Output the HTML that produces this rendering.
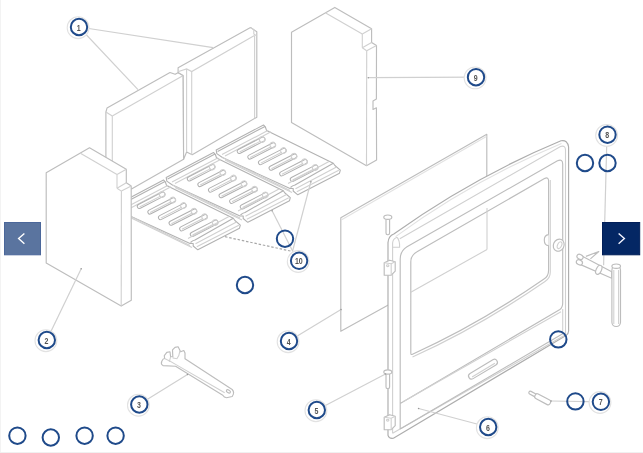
<!DOCTYPE html>
<html><head><meta charset="utf-8"><style>
html,body{margin:0;padding:0;background:#fff;}
body{width:643px;height:453px;overflow:hidden;position:relative;}
svg{position:absolute;left:0;top:0;will-change:transform}
.o{stroke:#bdbdbd;stroke-width:1.15;fill-rule:evenodd;stroke-linejoin:round}
.i{stroke:#d0d0d0;stroke-width:1.1;fill:none}
.s{stroke:#b0b0b0;stroke-width:1.0}
.d{stroke:#adadad;stroke-width:1.15;stroke-linejoin:round}
.i2{stroke:#e2e2e2;stroke-width:1.1;fill:none}
.g{stroke:#b2b2b2;stroke-width:1.1;stroke-linejoin:round}
.ld{stroke:#d0d0d0;stroke-width:1.2}
.c{fill:none;stroke:#1f4a8a;stroke-width:2}
text{font-family:"Liberation Sans",sans-serif;font-size:8.8px;font-weight:bold;fill:#555;text-anchor:middle}
.btn{position:absolute;top:222px;height:33px;}
</style></head><body>
<svg width="643" height="453" viewBox="0 0 643 453">
<rect x="0" y="0" width="1" height="453" fill="#f3f3f3"/>
<rect x="0" y="452" width="643" height="1" fill="#f0f0f0"/>
<polygon class="o" fill="#fff" points="105.9,112 107,108.1 170,72.5 175.1,74.3 178.1,72.7 183.2,75.4 183.6,159.3 131.5,188.9 105.9,175"/>
<line class="i" x1="105.9" y1="112" x2="112.3" y2="116"/>
<line class="i" x1="112.3" y1="116" x2="183.2" y2="75.4"/>
<line class="i" x1="112.3" y1="116" x2="112.3" y2="175"/>
<polygon class="o" fill="#fff" points="178.1,72.5 178.1,67.7 250.5,27.5 256.8,31.7 256.8,117.2 192.2,154.7 186.6,152 183.6,159.3 183.2,75.4"/>
<polyline class="i" fill="none" points="178.5,71.6 186.6,68.9 191.7,71.6 254.4,35.6"/>
<line class="i" x1="186.6" y1="68.9" x2="186.6" y2="152"/>
<line class="i" x1="191.7" y1="71.6" x2="191.7" y2="154.7"/>
<line class="i" x1="254.6" y1="35.6" x2="254.6" y2="118.3"/>
<polyline class="i" fill="none" points="250.5,27.5 253.8,29.8 253.8,34 256.8,36"/>
<polygon class="o" fill="#fff" points="291.5,32.3 334.8,7.4 371.6,28.8 371.6,42.4 376.5,45.5 376.4,98.9 373,101 373,109.5 376.4,107.8 376.6,159.9 366.5,165.7 291.5,122.6"/>
<line class="i" x1="325.7" y1="12.9" x2="362.3" y2="34.1"/>
<line class="i" x1="362.3" y1="34.1" x2="371.6" y2="28.8"/>
<line class="i" x1="362.3" y1="34.1" x2="362.3" y2="47.8"/>
<line class="i" x1="362.3" y1="47.8" x2="371.6" y2="42.4"/>
<line class="i" x1="362.3" y1="47.8" x2="366.7" y2="50.7"/>
<line class="i" x1="366.7" y1="50.7" x2="376.5" y2="45.5"/>
<line class="i" x1="366.7" y1="50.7" x2="366.5" y2="165.7"/>
<polygon class="g" fill="#fff" points="116.2,204.9 163.5,180 165.3,181.8 166.6,185.6 233.3,218.2 234.9,220.5 240.3,225.1 239.5,228.2 197.8,249.8 193.2,246 193.2,243.5 190,243.5 122.4,212.5 116.8,208.6"/>
<line class="g" x1="117.6" y1="206.4" x2="165" y2="181.4"/>
<line class="i" x1="122" y1="209.6" x2="168.2" y2="185.3"/>
<line class="i" x1="125" y1="211.1" x2="171" y2="186.8"/>
<line class="i" x1="122.4" y1="212.5" x2="190" y2="245.5"/>
<line class="i" x1="125" y1="215" x2="192" y2="247.5"/>
<g transform="translate(137.5,207.3) rotate(-27.2)"><rect class="s" fill="#fff" x="0" y="-2.1" width="30.6" height="4.2" rx="2.1"/><circle class="i" fill="#fff" cx="27.8" cy="-0.2" r="2.8"/><line class="i" x1="2" y1="0.6" x2="25.6" y2="0.6"/></g>
<g transform="translate(148.1,212.9) rotate(-27.2)"><rect class="s" fill="#fff" x="0" y="-2.1" width="30.6" height="4.2" rx="2.1"/><circle class="i" fill="#fff" cx="27.8" cy="-0.2" r="2.8"/><line class="i" x1="2" y1="0.6" x2="25.6" y2="0.6"/></g>
<g transform="translate(158.7,218.5) rotate(-27.2)"><rect class="s" fill="#fff" x="0" y="-2.1" width="30.6" height="4.2" rx="2.1"/><circle class="i" fill="#fff" cx="27.8" cy="-0.2" r="2.8"/><line class="i" x1="2" y1="0.6" x2="25.6" y2="0.6"/></g>
<g transform="translate(169.3,224.1) rotate(-27.2)"><rect class="s" fill="#fff" x="0" y="-2.1" width="30.6" height="4.2" rx="2.1"/><circle class="i" fill="#fff" cx="27.8" cy="-0.2" r="2.8"/><line class="i" x1="2" y1="0.6" x2="25.6" y2="0.6"/></g>
<g transform="translate(179.9,229.7) rotate(-27.2)"><rect class="s" fill="#fff" x="0" y="-2.1" width="30.6" height="4.2" rx="2.1"/><circle class="i" fill="#fff" cx="27.8" cy="-0.2" r="2.8"/><line class="i" x1="2" y1="0.6" x2="25.6" y2="0.6"/></g>
<g transform="translate(190.5,235.3) rotate(-27.2)"><rect class="s" fill="#fff" x="0" y="-2.1" width="30.6" height="4.2" rx="2.1"/><circle class="i" fill="#fff" cx="27.8" cy="-0.2" r="2.8"/><line class="i" x1="2" y1="0.6" x2="25.6" y2="0.6"/></g>
<path class="g" fill="none" d="M190.5,242.5 Q192.5,240.5 195,240 L233.3,218.2"/>
<line class="i" x1="195.5" y1="243.8" x2="236.5" y2="222"/>
<line class="i" x1="196.8" y1="246.8" x2="238.8" y2="225.2"/>
<line class="i" x1="188" y1="238.5" x2="229" y2="216.5"/>
<polygon class="g" fill="#fff" points="166.2,177.4 213.5,152.5 215.3,154.3 216.6,158.1 283.3,190.7 284.9,193 290.3,197.6 289.5,200.7 247.8,222.3 243.2,218.5 243.2,216 240,216 172.4,185 166.8,181.1"/>
<line class="g" x1="167.6" y1="178.9" x2="215" y2="153.9"/>
<line class="i" x1="172" y1="182.1" x2="218.2" y2="157.8"/>
<line class="i" x1="175" y1="183.6" x2="221" y2="159.3"/>
<line class="i" x1="172.4" y1="185" x2="240" y2="218"/>
<line class="i" x1="175" y1="187.5" x2="242" y2="220"/>
<g transform="translate(187.5,179.8) rotate(-27.2)"><rect class="s" fill="#fff" x="0" y="-2.1" width="30.6" height="4.2" rx="2.1"/><circle class="i" fill="#fff" cx="27.8" cy="-0.2" r="2.8"/><line class="i" x1="2" y1="0.6" x2="25.6" y2="0.6"/></g>
<g transform="translate(198.1,185.4) rotate(-27.2)"><rect class="s" fill="#fff" x="0" y="-2.1" width="30.6" height="4.2" rx="2.1"/><circle class="i" fill="#fff" cx="27.8" cy="-0.2" r="2.8"/><line class="i" x1="2" y1="0.6" x2="25.6" y2="0.6"/></g>
<g transform="translate(208.7,191) rotate(-27.2)"><rect class="s" fill="#fff" x="0" y="-2.1" width="30.6" height="4.2" rx="2.1"/><circle class="i" fill="#fff" cx="27.8" cy="-0.2" r="2.8"/><line class="i" x1="2" y1="0.6" x2="25.6" y2="0.6"/></g>
<g transform="translate(219.3,196.6) rotate(-27.2)"><rect class="s" fill="#fff" x="0" y="-2.1" width="30.6" height="4.2" rx="2.1"/><circle class="i" fill="#fff" cx="27.8" cy="-0.2" r="2.8"/><line class="i" x1="2" y1="0.6" x2="25.6" y2="0.6"/></g>
<g transform="translate(229.9,202.2) rotate(-27.2)"><rect class="s" fill="#fff" x="0" y="-2.1" width="30.6" height="4.2" rx="2.1"/><circle class="i" fill="#fff" cx="27.8" cy="-0.2" r="2.8"/><line class="i" x1="2" y1="0.6" x2="25.6" y2="0.6"/></g>
<g transform="translate(240.5,207.8) rotate(-27.2)"><rect class="s" fill="#fff" x="0" y="-2.1" width="30.6" height="4.2" rx="2.1"/><circle class="i" fill="#fff" cx="27.8" cy="-0.2" r="2.8"/><line class="i" x1="2" y1="0.6" x2="25.6" y2="0.6"/></g>
<path class="g" fill="none" d="M240.5,215 Q242.5,213 245,212.5 L283.3,190.7"/>
<line class="i" x1="245.5" y1="216.3" x2="286.5" y2="194.5"/>
<line class="i" x1="246.8" y1="219.3" x2="288.8" y2="197.7"/>
<line class="i" x1="238" y1="211" x2="279" y2="189"/>
<polygon class="g" fill="#fff" points="216.2,149.9 263.5,125 265.3,126.8 266.6,130.6 333.3,163.2 334.9,165.5 340.3,170.1 339.5,173.2 297.8,194.8 293.2,191 293.2,188.5 290,188.5 222.4,157.5 216.8,153.6"/>
<line class="g" x1="217.6" y1="151.4" x2="265" y2="126.4"/>
<line class="i" x1="222" y1="154.6" x2="268.2" y2="130.3"/>
<line class="i" x1="225" y1="156.1" x2="271" y2="131.8"/>
<line class="i" x1="222.4" y1="157.5" x2="290" y2="190.5"/>
<line class="i" x1="225" y1="160" x2="292" y2="192.5"/>
<g transform="translate(237.5,152.3) rotate(-27.2)"><rect class="s" fill="#fff" x="0" y="-2.1" width="30.6" height="4.2" rx="2.1"/><circle class="i" fill="#fff" cx="27.8" cy="-0.2" r="2.8"/><line class="i" x1="2" y1="0.6" x2="25.6" y2="0.6"/></g>
<g transform="translate(248.1,157.9) rotate(-27.2)"><rect class="s" fill="#fff" x="0" y="-2.1" width="30.6" height="4.2" rx="2.1"/><circle class="i" fill="#fff" cx="27.8" cy="-0.2" r="2.8"/><line class="i" x1="2" y1="0.6" x2="25.6" y2="0.6"/></g>
<g transform="translate(258.7,163.5) rotate(-27.2)"><rect class="s" fill="#fff" x="0" y="-2.1" width="30.6" height="4.2" rx="2.1"/><circle class="i" fill="#fff" cx="27.8" cy="-0.2" r="2.8"/><line class="i" x1="2" y1="0.6" x2="25.6" y2="0.6"/></g>
<g transform="translate(269.3,169.1) rotate(-27.2)"><rect class="s" fill="#fff" x="0" y="-2.1" width="30.6" height="4.2" rx="2.1"/><circle class="i" fill="#fff" cx="27.8" cy="-0.2" r="2.8"/><line class="i" x1="2" y1="0.6" x2="25.6" y2="0.6"/></g>
<g transform="translate(279.9,174.7) rotate(-27.2)"><rect class="s" fill="#fff" x="0" y="-2.1" width="30.6" height="4.2" rx="2.1"/><circle class="i" fill="#fff" cx="27.8" cy="-0.2" r="2.8"/><line class="i" x1="2" y1="0.6" x2="25.6" y2="0.6"/></g>
<g transform="translate(290.5,180.3) rotate(-27.2)"><rect class="s" fill="#fff" x="0" y="-2.1" width="30.6" height="4.2" rx="2.1"/><circle class="i" fill="#fff" cx="27.8" cy="-0.2" r="2.8"/><line class="i" x1="2" y1="0.6" x2="25.6" y2="0.6"/></g>
<path class="g" fill="none" d="M290.5,187.5 Q292.5,185.5 295,185 L333.3,163.2"/>
<line class="i" x1="295.5" y1="188.8" x2="336.5" y2="167"/>
<line class="i" x1="296.8" y1="191.8" x2="338.8" y2="170.2"/>
<line class="i" x1="288" y1="183.5" x2="329" y2="161.5"/>
<polygon class="o" fill="#fff" points="46.2,172.7 89.5,147.8 126.3,169.2 126.3,182.8 131.2,185.9 131.3,300.3 121.2,306.1 46.2,263"/>
<line class="i" x1="80.4" y1="153.3" x2="117" y2="174.5"/>
<line class="i" x1="117" y1="174.5" x2="126.3" y2="169.2"/>
<line class="i" x1="117" y1="174.5" x2="117" y2="188.2"/>
<line class="i" x1="117" y1="188.2" x2="126.3" y2="182.8"/>
<line class="i" x1="117" y1="188.2" x2="121.4" y2="191.1"/>
<line class="i" x1="121.4" y1="191.1" x2="131.2" y2="185.9"/>
<line class="i" x1="121.4" y1="191.1" x2="121.2" y2="306.1"/>
<polygon class="o" fill="#fff" points="340.8,217.7 486.8,134.3 486.8,250.5 340.8,331.3"/>
<line class="i2" x1="341.2" y1="220" x2="486.4" y2="136.6"/>
<path class="d" fill="#fff" d="M388,435.4 L388,242.6 Q388.5,236 393.8,234 Q472,177.8 561,140.8 Q567.5,139.5 568.6,147 L568.6,330.9 Q568.5,334 566,335.4 L393.4,438.3 Q389,439 388,435.4 Z"/>
<path class="i2" fill="none" d="M395.6,236.6 Q472.5,180.4 561.5,143.4"/>
<path class="i" fill="none" d="M392.6,433.3 L392.6,243 Q393,238.5 397.2,237.3"/>
<path class="i" fill="none" d="M392.6,247.2 L399.6,247.2 Q400,241 397.2,237.3"/>
<path class="i" fill="none" d="M399.8,238.7 L560.5,146.5 Q565.5,145 565.5,150 L565.5,334.8"/>
<line class="i" x1="392.6" y1="433.3" x2="565.5" y2="334.8"/>
<line class="o" x1="400.2" y1="428.9" x2="562.7" y2="333.8"/>
<line class="i" x1="562.7" y1="309" x2="562.7" y2="333.8"/>
<path class="o" fill="none" d="M400.2,428.9 L400.2,259 Q400.2,251 407,246.8 L557.5,160.8 Q562.7,158.5 562.7,164 L562.7,303 Q562.7,307.5 559.9,309.4 L400.2,403.5"/>
<path class="i" fill="none" d="M403.5,401.5 L561,311.8"/>
<path class="o" fill="none" d="M410.8,352.8 L410.8,262 Q410.8,255 417,251.7 L544.5,178.6 Q548.6,176.5 548.6,181 L548.6,270 Q548.6,276.5 544,279 Q478,324.7 412,354.4 Q410.8,355 410.8,352.8 Z"/>
<path class="i" fill="none" d="M412.5,357 Q479,327 545,281.5 Q550.3,278 550.3,272 L550.3,180"/>
<line class="i" x1="410.8" y1="292.2" x2="487" y2="249.5"/>
<line class="i" x1="487" y1="208" x2="487" y2="249.5"/>
<g transform="translate(469,377.6) rotate(-31)"><rect class="o" fill="#fff" x="0" y="-3" width="32.6" height="6" rx="3"/><line class="i" x1="3" y1="1" x2="29.6" y2="1"/></g>
<polygon class="o" fill="#fff" points="384.2,262.7 389.7,260.2 395.2,261.7 395.2,271.2 391.2,275.2 384.2,275.2"/>
<polyline class="i" fill="none" points="384.2,262.7 391.2,263.7 395.2,261.7"/>
<line class="i" x1="391.2" y1="263.7" x2="391.2" y2="275.2"/>
<ellipse class="i" cx="387.7" cy="265.7" rx="1.2" ry="0.9"/>
<polygon class="o" fill="#fff" points="384.2,417.2 389.7,414.7 395.2,416.2 395.2,425.7 391.2,429.7 384.2,429.7"/>
<polyline class="i" fill="none" points="384.2,417.2 391.2,418.2 395.2,416.2"/>
<line class="i" x1="391.2" y1="418.2" x2="391.2" y2="429.7"/>
<ellipse class="i" cx="387.7" cy="420.2" rx="1.2" ry="0.9"/>
<rect class="o" fill="#fff" x="386" y="218.2" width="3.6" height="16.5" rx="1.6"/>
<ellipse class="o" fill="#fff" cx="387.8" cy="217.2" rx="4" ry="2.2"/>
<rect class="o" fill="#fff" x="386" y="373" width="3.6" height="15.5" rx="1.6"/>
<ellipse class="o" fill="#fff" cx="387.8" cy="372" rx="4" ry="2.2"/>
<path class="o" fill="#fff" d="M548.6,234.6 Q544.3,235 544.3,240 Q544.3,245.5 548.6,245.6"/>
<ellipse class="o" fill="#fff" cx="558.7" cy="245.2" rx="5.3" ry="6.2" transform="rotate(25 558.7 245.2)"/>
<ellipse class="i" fill="#fff" cx="559.6" cy="245.2" rx="2" ry="3.6" transform="rotate(25 559.6 245.2)"/>
<path class="o" fill="#fff" d="M585.9,256.4 L598.8,251.5 L590.4,258.9"/>
<path class="o" fill="#fff" d="M580,255 L611.7,271.8 L611.7,278.3 L580,264.4 Z"/>
<ellipse class="o" fill="#fff" cx="579.4" cy="262.4" rx="3.2" ry="2.4" transform="rotate(25 579.4 262.4)"/>
<ellipse class="o" fill="#fff" cx="580" cy="256.9" rx="3.2" ry="2.4" transform="rotate(25 580 256.9)"/>
<ellipse class="o" fill="#fff" cx="598.8" cy="269.8" rx="2.6" ry="4.8" transform="rotate(25 598.8 269.8)"/>
<rect class="o" fill="#fff" x="611.9" y="266" width="8.6" height="60.5" rx="4.2"/>
<ellipse class="o" fill="#fff" cx="616.2" cy="266.2" rx="4.3" ry="2.2"/>
<line class="i" x1="613.8" y1="270" x2="613.8" y2="324"/>
<line class="i" x1="618.6" y1="270" x2="618.6" y2="324"/>
<path class="o" fill="#fff" d="M161.8,361.2 Q163,358.5 164.6,358.5 L164.3,355.6 L166.8,352.4 L170,351.8 L170.6,356.8 L172.8,356.5 L172.5,349.9 L175,347.4 L178.1,346.8 L180,350.5 L180.6,351.8 L183.8,350.5 L185,353.1 L185,358.7 L232.2,389.5 Q235,392.5 232.2,396.5 L226.6,397.7 Q224,397.5 222.8,395.2 L175.6,366.3 L163,365.6 Q160.5,364 161.8,361.2 Z"/>
<path class="i" fill="none" d="M164.6,358.5 Q170,361 175.6,364.4 L224.7,392.7"/>
<path class="i" fill="none" d="M170.6,356.8 L169.3,361.9 M172.8,356.5 L173.1,358.1 L176.9,358.7 L178.8,355.6 L180,350.5"/>
<ellipse class="o" fill="none" cx="228.4" cy="391.4" rx="2.2" ry="1.4" transform="rotate(30 228.4 391.4)"/>
<g transform="translate(529,392) rotate(28)"><rect class="o" fill="#fff" x="0" y="-1.5" width="8" height="3" rx="1.5"/><rect class="o" fill="#fff" x="7" y="-2.6" width="17" height="5.2" rx="2"/></g>
<line class="ld" x1="79" y1="27" x2="138" y2="89.6"/>
<circle cx="79" cy="27" r="0.8" fill="#999"/>
<line class="ld" x1="79" y1="27" x2="213.2" y2="47.7"/>
<circle cx="79" cy="27" r="0.8" fill="#999"/>
<line class="ld" x1="368.3" y1="77.7" x2="476" y2="77.2"/>
<circle cx="368.3" cy="77.7" r="0.8" fill="#999"/>
<line class="ld" x1="81.2" y1="268.8" x2="46.8" y2="340"/>
<circle cx="81.2" cy="268.8" r="0.8" fill="#999"/>
<line class="ld" x1="341" y1="309.6" x2="289" y2="341"/>
<circle cx="341" cy="309.6" r="0.8" fill="#999"/>
<line class="ld" x1="187.5" y1="374.5" x2="139" y2="404.5"/>
<circle cx="187.5" cy="374.5" r="0.8" fill="#999"/>
<line class="ld" x1="385.5" y1="374" x2="316.8" y2="410"/>
<circle cx="385.5" cy="374" r="0.8" fill="#999"/>
<line class="ld" x1="418.6" y1="408.5" x2="488.2" y2="427"/>
<circle cx="418.6" cy="408.5" r="0.8" fill="#999"/>
<line class="ld" x1="551.1" y1="401" x2="600.9" y2="401.8"/>
<circle cx="551.1" cy="401" r="0.8" fill="#999"/>
<line class="ld" x1="607" y1="134" x2="603.6" y2="265.2"/>
<circle cx="607" cy="134" r="0.8" fill="#999"/>
<line class="ld" x1="272.1" y1="210.7" x2="292.6" y2="251"/>
<circle cx="272.1" cy="210.7" r="0.8" fill="#999"/>
<line class="ld" x1="310.9" y1="181.7" x2="292.6" y2="251"/>
<circle cx="310.9" cy="181.7" r="0.8" fill="#999"/>
<polyline class="ld" stroke-dasharray="2.5,1.8" style="stroke:#a8a8a8" fill="none" points="225,236.7 292.6,251.5"/>
<circle cx="78.1" cy="27.7" r="10.9" fill="#fff" stroke="#e2e2e2" stroke-width="1.1"/>
<circle class="c" cx="79" cy="27" r="8.2"/>
<text transform="translate(78.7,30.5) scale(0.8,1)">1</text>
<circle cx="475.1" cy="77.9" r="10.9" fill="#fff" stroke="#e2e2e2" stroke-width="1.1"/>
<circle class="c" cx="476" cy="77.2" r="8.2"/>
<text transform="translate(475.7,80.7) scale(0.8,1)">9</text>
<circle cx="606.6" cy="135.4" r="10.9" fill="#fff" stroke="#e2e2e2" stroke-width="1.1"/>
<circle class="c" cx="607.5" cy="134.7" r="8.2"/>
<text transform="translate(607.2,138.2) scale(0.8,1)">8</text>
<circle cx="298.2" cy="261.5" r="10.9" fill="#fff" stroke="#e2e2e2" stroke-width="1.1"/>
<circle class="c" cx="299.1" cy="260.8" r="8.2"/>
<text transform="translate(298.8,264.3) scale(0.8,1)">10</text>
<circle cx="45.9" cy="340.7" r="10.9" fill="#fff" stroke="#e2e2e2" stroke-width="1.1"/>
<circle class="c" cx="46.8" cy="340" r="8.2"/>
<text transform="translate(46.5,343.5) scale(0.8,1)">2</text>
<circle cx="288.1" cy="341.7" r="10.9" fill="#fff" stroke="#e2e2e2" stroke-width="1.1"/>
<circle class="c" cx="289" cy="341" r="8.2"/>
<text transform="translate(288.7,344.5) scale(0.8,1)">4</text>
<circle cx="138.4" cy="405.2" r="10.9" fill="#fff" stroke="#e2e2e2" stroke-width="1.1"/>
<circle class="c" cx="139.3" cy="404.5" r="8.2"/>
<text transform="translate(139,408) scale(0.8,1)">3</text>
<circle cx="315.9" cy="410.7" r="10.9" fill="#fff" stroke="#e2e2e2" stroke-width="1.1"/>
<circle class="c" cx="316.8" cy="410" r="8.2"/>
<text transform="translate(316.5,413.5) scale(0.8,1)">5</text>
<circle cx="600" cy="402.5" r="10.9" fill="#fff" stroke="#e2e2e2" stroke-width="1.1"/>
<circle class="c" cx="600.9" cy="401.8" r="8.2"/>
<text transform="translate(600.6,405.3) scale(0.8,1)">7</text>
<circle cx="487.3" cy="427.7" r="10.9" fill="#fff" stroke="#e2e2e2" stroke-width="1.1"/>
<circle class="c" cx="488.2" cy="427" r="8.2"/>
<text transform="translate(487.9,430.5) scale(0.8,1)">6</text>
<circle class="c" cx="585" cy="163" r="8.2"/>
<circle class="c" cx="607.5" cy="163" r="8.2"/>
<circle class="c" cx="285" cy="238.7" r="8.2"/>
<circle class="c" cx="245" cy="285" r="8.2"/>
<circle class="c" cx="558.3" cy="339.4" r="8.2"/>
<circle class="c" cx="575.4" cy="401.4" r="8.2"/>
<circle class="c" cx="17.4" cy="435.7" r="8.2"/>
<circle class="c" cx="50.8" cy="437.5" r="8.2"/>
<circle class="c" cx="84.6" cy="435.7" r="8.2"/>
<circle class="c" cx="115.6" cy="435.7" r="8.2"/>
<rect x="4.5" y="222.5" width="36" height="32.3" fill="#5a749f" stroke="#4b679a" stroke-width="1"/>
<polyline points="24.4,233.4 18.6,238.6 24.4,243.8" fill="none" stroke="#fff" stroke-width="1.4"/>
<rect x="602.5" y="222.5" width="37.2" height="32.3" fill="#042764" stroke="#011e58" stroke-width="1"/>
<polyline points="618.6,233.4 624.4,238.6 618.6,243.8" fill="none" stroke="#f4f4ff" stroke-width="1.4"/>
</svg>
</body></html>
